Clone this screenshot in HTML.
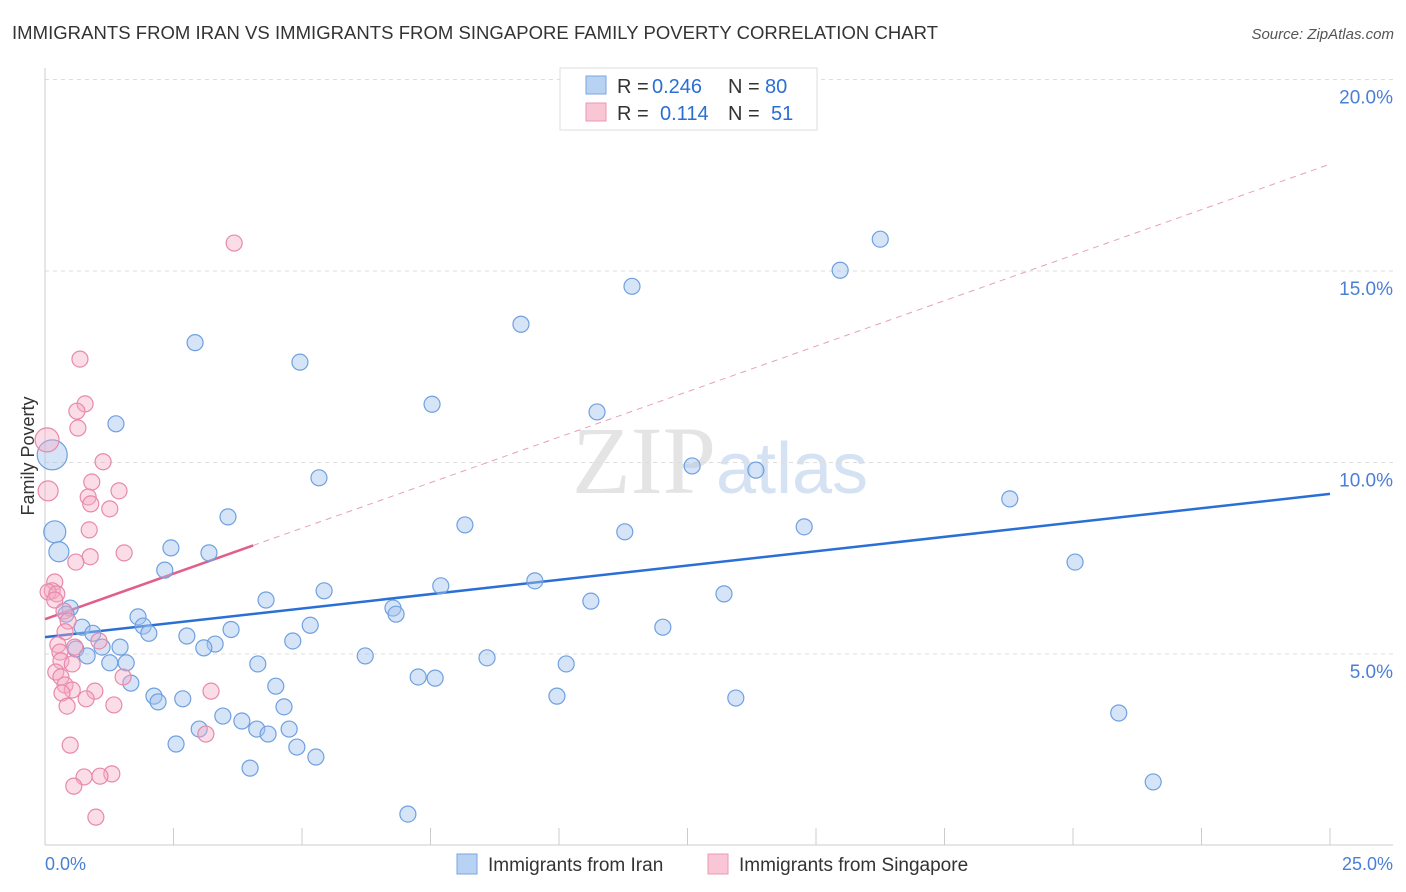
<!DOCTYPE html>
<html><head><meta charset="utf-8"><style>
body{margin:0;background:#fff;font-family:"Liberation Sans",sans-serif}
svg{display:block}
</style></head><body>
<svg id="chart" width="1406" height="892">
<text x="12" y="39" font-size="18.5" fill="#333" textLength="926">IMMIGRANTS FROM IRAN VS IMMIGRANTS FROM SINGAPORE FAMILY POVERTY CORRELATION CHART</text>
<text x="1394" y="39" font-size="15" fill="#555" text-anchor="end" font-style="italic">Source: ZipAtlas.com</text>
<text x="720" y="493" font-size="96" fill="#e4e4e4" text-anchor="middle" font-family="Liberation Serif">ZIP<tspan fill="#d4e2f4" font-family="Liberation Sans" font-size="72">atlas</tspan></text>
<g id="grid"></g><g id="lines"></g><g id="pts"></g>
<text x="34" y="456" font-size="18" fill="#333" text-anchor="middle" transform="rotate(-90 34 456)">Family Poverty</text>
<text x="45" y="870" font-size="18" fill="#4a7fd6">0.0%</text>
<text x="1393" y="870" font-size="18" fill="#4a7fd6" text-anchor="end">25.0%</text>
<g font-size="20">
<rect x="560" y="68" width="257" height="62" fill="#fff" stroke="#ddd"/>
<rect x="586" y="76" width="20" height="18" fill="#b8d2f4" stroke="#7aa6e0"/>
<rect x="586" y="103" width="20" height="18" fill="#f9c6d6" stroke="#e99ab5"/>
<text x="617" y="93" fill="#333">R =</text>
<text x="652" y="93" fill="#2a6fd6">0.246</text>
<text x="728" y="93" fill="#333">N =</text>
<text x="765" y="93" fill="#2a6fd6">80</text>
<text x="617" y="120" fill="#333">R =</text>
<text x="660" y="120" fill="#2a6fd6">0.114</text>
<text x="728" y="120" fill="#333">N =</text>
<text x="771" y="120" fill="#2a6fd6">51</text>
</g>
<g>
<rect x="457" y="854" width="20" height="20" fill="#b8d2f4" stroke="#7aa6e0"/>
<text x="488" y="871" font-size="19" fill="#333">Immigrants from Iran</text>
<rect x="708" y="854" width="20" height="20" fill="#f9c6d6" stroke="#e99ab5"/>
<text x="739" y="871" font-size="19" fill="#333">Immigrants from Singapore</text>
</g>
</svg>
<script>
const yTicks=[5,10,15,20];
const iranX=[.14,.19,.27,1.38,2.92,4.96,16.25,15.47,11.42,9.26,7.53,10.74,5.33,12.59,13.83,18.77,3.56,8.17,11.28,14.77,2.45,3.19,20.04,2.33,9.53,7.70,5.43,13.21,4.30,10.62,6.77,6.83,1.81,.49,.41,.72,1.91,2.02,.93,5.16,3.62,2.76,4.82,12.02,1.46,1.11,3.31,3.09,.60,.82,6.23,8.60,1.26,1.58,4.14,10.14,7.26,7.59,1.67,4.49,2.12,2.20,2.68,9.96,13.44,4.65,3.46,20.89,3.83,3.00,4.12,4.75,4.34,4.90,2.55,5.27,3.99,21.56,7.06];
const iranY=[10.20,8.19,7.67,11.01,13.13,12.62,15.83,15.02,14.60,13.61,11.52,11.32,9.60,9.91,9.80,9.05,8.58,8.37,8.19,8.32,7.77,7.64,7.40,7.19,6.91,6.78,6.65,6.57,6.41,6.38,6.20,6.04,5.97,6.20,6.04,5.70,5.73,5.54,5.54,5.75,5.64,5.47,5.34,5.70,5.18,5.18,5.26,5.16,5.13,4.95,4.95,4.90,4.77,4.77,4.74,4.74,4.40,4.37,4.24,4.16,3.90,3.75,3.83,3.90,3.85,3.62,3.38,3.46,3.25,3.04,3.04,3.04,2.91,2.57,2.65,2.31,2.02,1.66,.82];
const iranR=[15,11,10];
const sgX=[3.68,.68,.78,.62,.64,.04,1.13,.06,.91,1.44,.84,.89,1.26,.86,1.54,.88,.60,.19,.14,.06,.23,.19,.37,.45,.39,1.05,.58,.25,.29,.31,.53,.21,.31,1.52,.39,.53,.97,3.23,.33,.80,1.34,.43,3.13,.49,.76,1.30,1.07,.56,.99];
const sgY=[15.73,12.70,11.53,11.34,10.90,10.59,10.02,9.26,9.49,9.26,9.10,8.92,8.79,8.24,7.64,7.54,7.40,6.88,6.65,6.62,6.57,6.41,6.12,5.86,5.58,5.34,5.18,5.24,5.05,4.82,4.74,4.53,4.40,4.40,4.19,4.06,4.03,4.03,3.98,3.83,3.67,3.64,2.91,2.62,1.79,1.87,1.81,1.55,.74];
const sgBig={5:12,7:10};
const iranTrend=[5.44,9.18];
const sgTrend=[5.91,17.79,4.05];
const X=v=>45+v*51.4, Y=v=>845.5-v*38.3;
const NS="http://www.w3.org/2000/svg";
function mk(t,a,p){const e=document.createElementNS(NS,t);for(const k in a)e.setAttribute(k,a[k]);p.appendChild(e);return e;}
const g=document.getElementById('grid');
yTicks.forEach(t=>{
 const l=mk('line',{x1:45,x2:1393,y1:Y(t),y2:Y(t),stroke:'#ddd','stroke-dasharray':'4,4'},g);
 
 
 const tx=mk('text',{x:1393,y:Y(t)+24,'font-size':19,fill:'#4a7fd6','text-anchor':'end'},g);
 tx.textContent=t.toFixed(1)+'%';
 
 
});
mk('line',{x1:45,x2:45,y1:68,y2:845,stroke:'#ccc'},g);
mk('line',{x1:45,x2:1393,y1:845,y2:845,stroke:'#ccc'},g);
for(let i=0;i<=10;i++){const t=mk('line',{x1:X(i*2.5),x2:X(i*2.5),y1:828,y2:845,stroke:'#ccc'},g);
 
 }
const L=document.getElementById('lines');
const sd=mk('line',{x1:X(sgTrend[2]),y1:Y(sgTrend[0]+(sgTrend[1]-sgTrend[0])*sgTrend[2]/25),x2:X(25),y2:Y(sgTrend[1]),stroke:'#e8a0b8','stroke-dasharray':'6,5','stroke-width':1},L);


const P=document.getElementById('pts');
iranX.forEach((x,i)=>{const c=mk('circle',{cx:X(x),cy:Y(iranY[i]),r:iranR[i]||8,fill:'rgba(164,196,240,0.45)',stroke:'#6fa0e0','stroke-width':1.2},P);
 
 });
sgX.forEach((x,i)=>{const c=mk('circle',{cx:X(x),cy:Y(sgY[i]),r:sgBig[i]||8,fill:'rgba(245,170,195,0.4)',stroke:'#e889aa','stroke-width':1.2},P);
 
 });
const il=mk('line',{x1:X(0),y1:Y(iranTrend[0]),x2:X(25),y2:Y(iranTrend[1]),stroke:'#2a6fd6','stroke-width':2.5},L);


const sl=mk('line',{x1:X(0),y1:Y(sgTrend[0]),x2:X(sgTrend[2]),y2:Y(sgTrend[0]+(sgTrend[1]-sgTrend[0])*sgTrend[2]/25),stroke:'#e0608a','stroke-width':2.5},L);


</script>
</body></html>
